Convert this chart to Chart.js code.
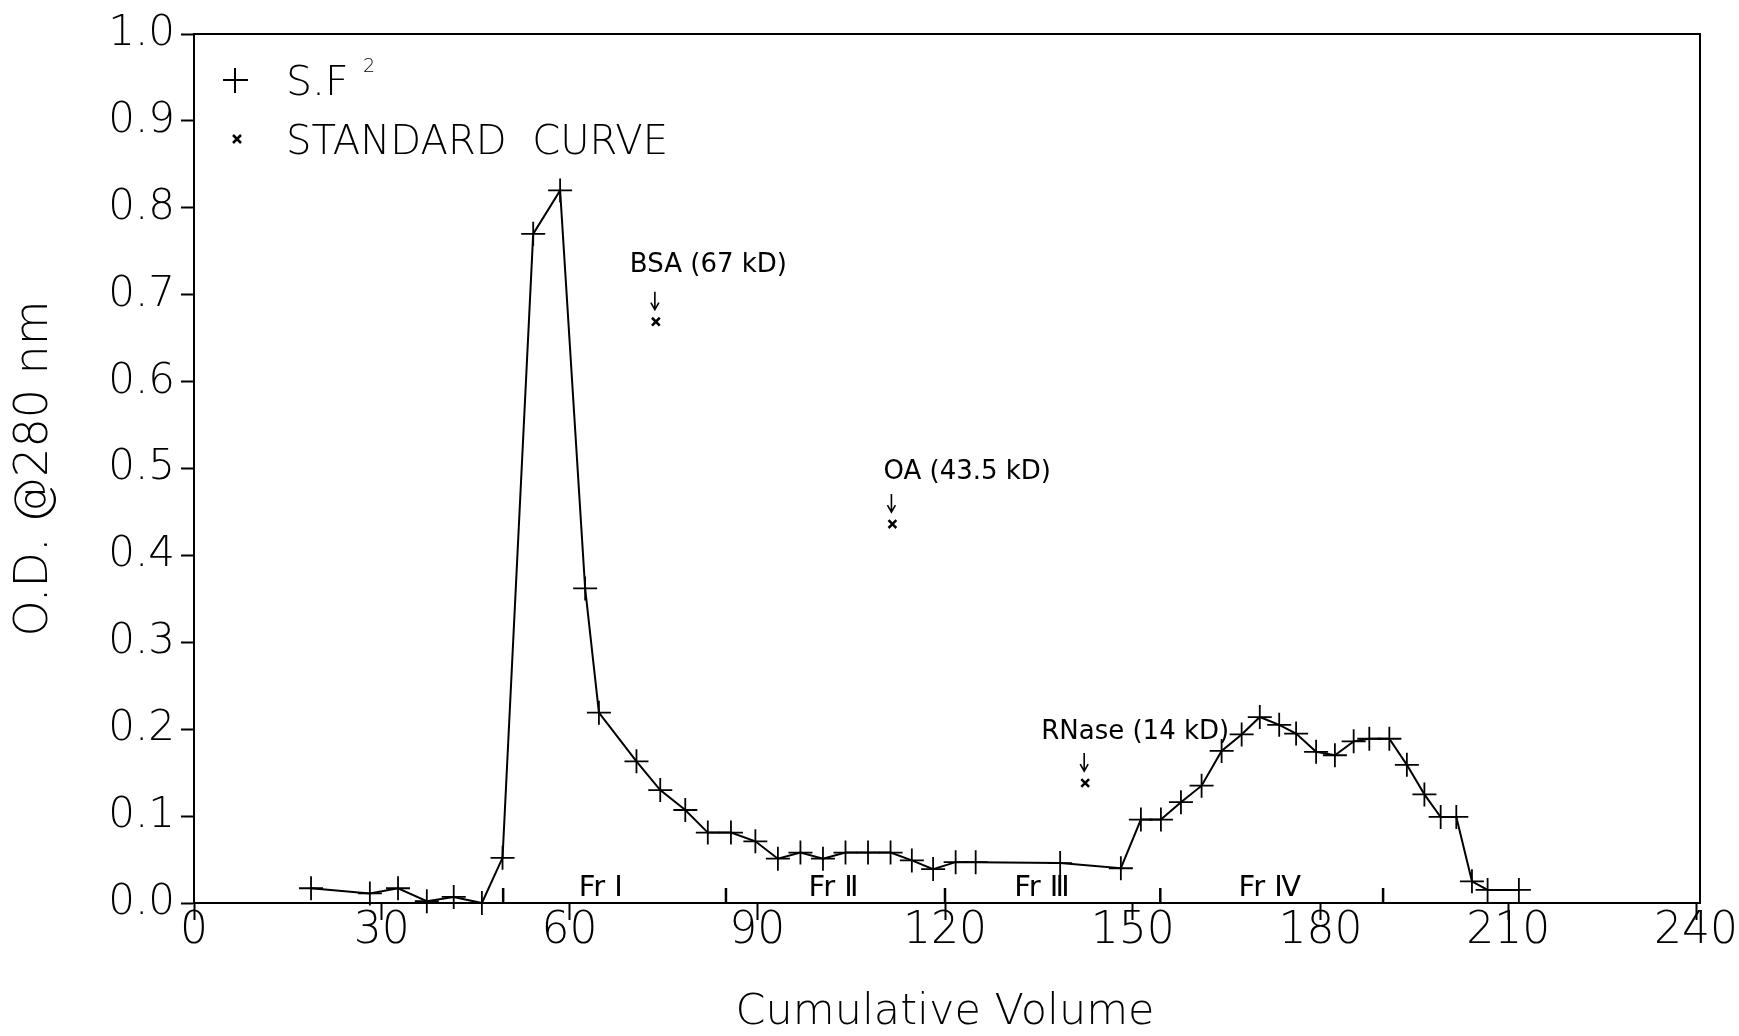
<!DOCTYPE html>
<html>
<head>
<meta charset="utf-8">
<title>S.F2 elution profile</title>
<script src="https://cdn.jsdelivr.net/npm/chart.js@4.4.1/dist/chart.umd.min.js"></script>
<style>
    html, body { margin: 0; padding: 0; background: #fff; }
    #wrap { width: 1739px; height: 1036px; }
</style>
</head>
<body>
<div id="wrap"><canvas id="chart" width="1739" height="1036"></canvas></div>
<script>
// S.F2 fractions - cumulative volume vs O.D.
const sfVolume = [18.7, 28.1, 32.6, 37.2, 41.5, 46.0, 49.3, 54.2, 58.5, 62.5,
    64.7, 70.7, 74.5, 78.5, 82.1, 85.8, 89.7, 93.3, 96.9, 100.5,
    104.1, 107.7, 111.3, 114.7, 118.1, 121.7, 124.9, 138.4, 148.1, 151.3,
    154.5, 157.7, 161.0, 164.2, 167.4, 170.3, 173.4, 176.1, 179.3, 182.3,
    185.3, 187.8, 191.0, 193.8, 196.6, 199.2, 201.7, 204.2, 206.7, 211.7];
const sfOD = [0.017, 0.011, 0.017, 0.002, 0.007, 0.0, 0.052, 0.770, 0.820, 0.362,
    0.219, 0.163, 0.130, 0.107, 0.081, 0.081, 0.071, 0.051, 0.058, 0.051,
    0.058, 0.058, 0.058, 0.049, 0.039, 0.047, 0.047, 0.046, 0.040, 0.096,
    0.096, 0.116, 0.135, 0.175, 0.194, 0.214, 0.205, 0.195, 0.174, 0.170,
    0.186, 0.189, 0.189, 0.159, 0.125, 0.099, 0.099, 0.025, 0.015, 0.015];

// standard curve proteins
const stdVolume = [73.8, 111.6, 142.4];
const stdOD = [0.669, 0.436, 0.138];
const stdNames = ["BSA (67 kD)", "OA (43.5 kD)", "RNase (14 kD)"];

// axis ticks
const xTicks = [0, 30, 60, 90, 120, 150, 180, 210, 240];
const yTicks = [0, 0.1, 0.2, 0.3, 0.4, 0.5, 0.6, 0.7, 0.8, 0.9, 1.0];

// fractions marked under the curve
const fracNames = ["Fr Ⅰ", "Fr Ⅱ", "Fr Ⅲ", "Fr Ⅳ"];
const fracCenters = [65, 102.2, 135.5, 171.9];
const fracBounds = [49.4, 85, 120, 154.4, 190];

const FONT = "'DejaVu Sans', 'Liberation Sans', sans-serif";

function toPoints(xs, ys) {
    return xs.map((x, i) => ({ x: x, y: ys[i] }));
}

function drawArrow(ctx, x, y1, y2) {
    ctx.beginPath();
    ctx.moveTo(x, y1);
    ctx.lineTo(x, y2);
    ctx.moveTo(x - 4, y2 - 7);
    ctx.lineTo(x, y2);
    ctx.lineTo(x + 4, y2 - 7);
    ctx.stroke();
}

// box, fraction marks, protein labels and legend
const decorations = {
    id: "decorations",
    afterDatasetsDraw(chart) {
        const ctx = chart.ctx;
        const area = chart.chartArea;
        const xs = chart.scales.x;
        const ys = chart.scales.y;

        ctx.save();
        ctx.strokeStyle = "#000";
        ctx.fillStyle = "#000";

        // frame
        ctx.lineWidth = 2;
        ctx.strokeRect(area.left, area.top, area.right - area.left + 4, area.bottom - area.top);

        // fraction boundaries
        ctx.lineWidth = 2.5;
        fracBounds.forEach((v) => {
            const px = xs.getPixelForValue(v);
            ctx.beginPath();
            ctx.moveTo(px, area.bottom);
            ctx.lineTo(px, area.bottom - 15);
            ctx.stroke();
        });

        ctx.font = "29px " + FONT;
        ctx.textAlign = "center";
        ctx.textBaseline = "middle";
        fracNames.forEach((name, i) => {
            ctx.fillText(name, xs.getPixelForValue(fracCenters[i]), area.bottom - 15);
        });

        // standard curve labels with arrows
        const offsets = [[-26, -56], [-9, -52], [-44, -51]];
        ctx.font = "26px " + FONT;
        ctx.textAlign = "left";
        ctx.lineWidth = 1.6;
        stdNames.forEach((name, i) => {
            const px = xs.getPixelForValue(stdVolume[i]);
            const py = ys.getPixelForValue(stdOD[i]);
            ctx.fillText(name, px + offsets[i][0], py + offsets[i][1]);
            drawArrow(ctx, px - 1, py - 30, py - 12);
        });

        // legend
        ctx.lineWidth = 2;
        ctx.beginPath();
        ctx.moveTo(223, 80);
        ctx.lineTo(248, 80);
        ctx.moveTo(235, 68);
        ctx.lineTo(235, 93);
        ctx.stroke();

        ctx.lineWidth = 2.5;
        ctx.beginPath();
        ctx.moveTo(233, 135);
        ctx.lineTo(241, 143);
        ctx.moveTo(241, 135);
        ctx.lineTo(233, 143);
        ctx.stroke();

        ctx.textBaseline = "alphabetic";
        ctx.font = "300 41px " + FONT;
        ctx.fillText("S.F", 286, 95);
        ctx.fillText("STANDARD  CURVE", 286, 154, 382);
        ctx.font = "300 19px " + FONT;
        ctx.fillText("2", 363, 72);

        ctx.restore();
    }
};

function drawChart() {
    const ctx = document.getElementById("chart").getContext("2d");
    new Chart(ctx, {
        type: "scatter",
        data: {
            datasets: [{
                label: "S.F²",
                data: toPoints(sfVolume, sfOD),
                showLine: true,
                borderColor: "#000",
                backgroundColor: "#000",
                borderWidth: 2,
                tension: 0,
                pointStyle: "cross",
                pointRadius: 12,
                pointBorderWidth: 1.8,
                clip: false
            }, {
                label: "STANDARD CURVE",
                data: toPoints(stdVolume, stdOD),
                showLine: false,
                borderColor: "#000",
                backgroundColor: "#000",
                pointStyle: "crossRot",
                pointRadius: 5.5,
                pointBorderWidth: 2.5,
                clip: false
            }]
        },
        options: {
            responsive: false,
            animation: false,
            events: [],
            devicePixelRatio: 1,
            layout: { padding: { top: 34, right: 43, left: 0, bottom: 0 } },
            plugins: {
                legend: { display: false },
                tooltip: { enabled: false }
            },
            scales: {
                x: {
                    type: "linear",
                    min: 0,
                    max: 240,
                    afterFit: (s) => { s.height = 133; },
                    afterBuildTicks: (s) => { s.ticks = xTicks.map((v) => ({ value: v })); },
                    border: { color: "#000", width: 2 },
                    grid: { drawOnChartArea: false, tickLength: 17, tickColor: "#000", tickWidth: 2 },
                    ticks: { color: "#000", padding: -15, font: { family: FONT, size: 44, weight: 300 } },
                    title: {
                        display: true,
                        text: "Cumulative Volume",
                        color: "#000",
                        padding: { top: 0, bottom: 2 },
                        font: { family: FONT, size: 43, weight: 300, lineHeight: 1 }
                    }
                },
                y: {
                    type: "linear",
                    min: 0,
                    max: 1,
                    afterFit: (s) => { s.width = 194; },
                    afterBuildTicks: (s) => { s.ticks = yTicks.map((v) => ({ value: v })); },
                    border: { color: "#000", width: 2 },
                    grid: { drawOnChartArea: false, tickLength: 13, tickColor: "#000", tickWidth: 2 },
                    ticks: {
                        color: "#000",
                        padding: 6,
                        font: { family: FONT, size: 42, weight: 300 },
                        callback: (v) => v.toFixed(1)
                    },
                    title: {
                        display: true,
                        text: "O.D. @280 nm",
                        color: "#000",
                        padding: { top: 12, bottom: 0 },
                        font: { family: FONT, size: 46, weight: 300, lineHeight: 1 }
                    }
                }
            }
        },
        plugins: [decorations]
    });
}

drawChart();
</script>
</body>
</html>
